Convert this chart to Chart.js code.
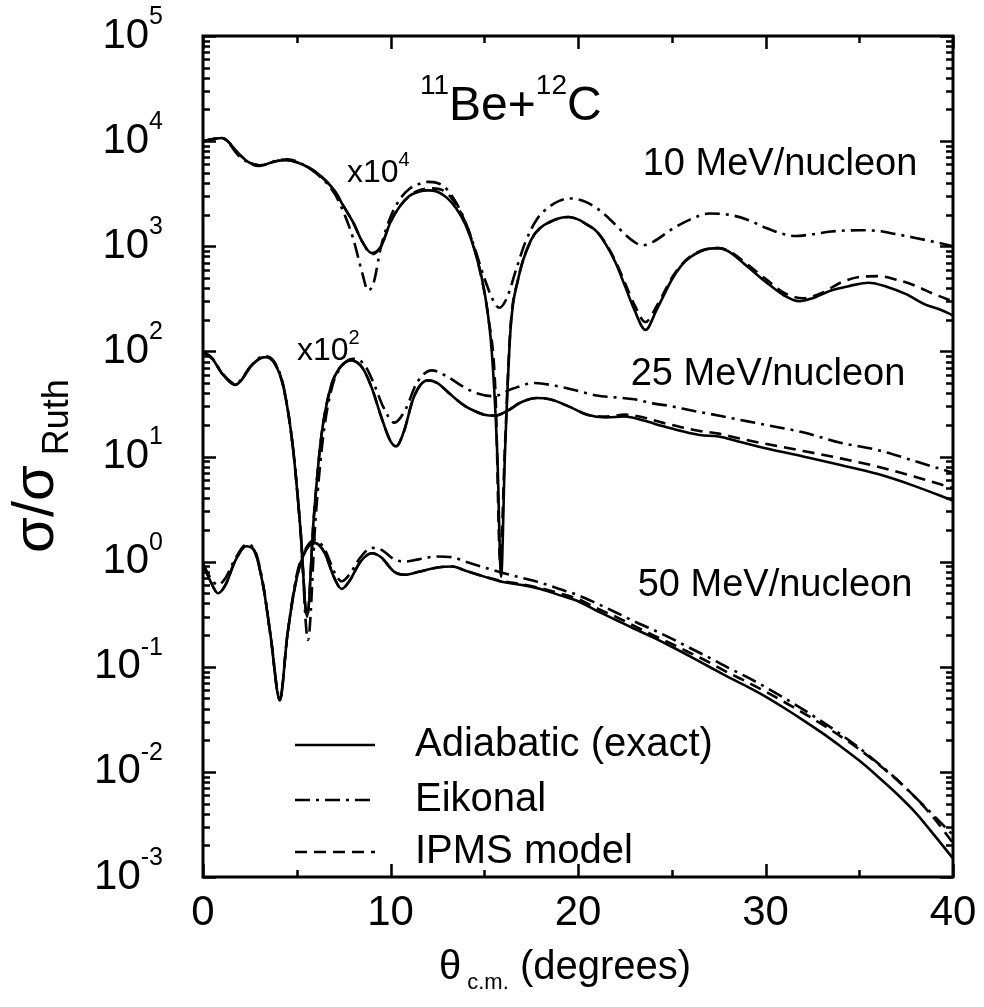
<!DOCTYPE html>
<html><head><meta charset="utf-8">
<script src="https://cdn.jsdelivr.net/npm/chart.js@4.4.1/dist/chart.umd.min.js"></script>
<style>html,body{margin:0;padding:0;background:#fff}#wrap{width:984px;height:1007px;position:relative}</style>
</head><body><div id="wrap"><canvas id="c" width="984" height="1007"></canvas></div>
<script>
// ---------- DATA ----------
// 10 MeV/nucleon (x10^4)
const thA10 = [0,1,2,2.5,3,4,4.5,5,6,7,7.5,8,8.5,9,9.5,10,10.5,11,11.5,12,12.5,13,13.5,14,14.5,15,15.4,15.7,15.9,16.1,16.4,16.8,17.5,18,18.5,19,19.5,20,20.5,21,21.5,22,22.5,23,23.6,24.2,25,25.5,26,27,27.5,28,29,30,31,31.8,32.5,33.5,34.5,35.5,36.5,37.5,38.5,39.3,40];
const adiab10 = [1.0e4,1.07e4,7.3e3,6.2e3,5.9e3,6.5e3,6.6e3,6.3e3,5.1e3,3.4e3,2.4e3,1.7e3,1.1e3,8.6e2,1.0e3,1.7e3,2.4e3,3.0e3,3.3e3,3.4e3,3.3e3,2.9e3,2.3e3,1.6e3,9e2,3.8e2,1.0e2,10,0.72,10,1.6e2,4.8e2,1.15e3,1.5e3,1.7e3,1.85e3,1.9e3,1.8e3,1.6e3,1.38e3,1.03e3,7e2,4.2e2,2.5e2,1.6e2,2.5e2,4.8e2,6.5e2,7.9e2,9.5e2,9.6e2,9e2,6.5e2,4.6e2,3.4e2,3.0e2,3.2e2,3.8e2,4.2e2,4.5e2,4.1e2,3.5e2,2.8e2,2.5e2,2.2e2];
const thE10 = [0,1,2,3,4,4.5,5,6,7,7.5,8,8.5,8.8,9.1,9.5,10,10.5,11,11.5,12,12.5,13,13.5,14,14.5,15,15.5,15.8,16.2,16.7,17.2,17.8,18.5,19,19.5,20,20.5,21,21.5,22,22.5,23,23.4,24,25,26,27,28,29,30,31,31.6,32.5,33.5,35,36,37,38,39,40];
const eik10 = [1.0e4,1.07e4,7.0e3,5.8e3,6.6e3,6.7e3,6.4e3,5.0e3,3.2e3,2.1e3,1.2e3,5.5e2,3.8e2,4.5e2,1.0e3,1.9e3,2.8e3,3.5e3,3.9e3,4.1e3,4.0e3,3.5e3,2.6e3,1.7e3,9.5e2,5e2,3e2,2.6e2,3.2e2,6e2,1.1e3,1.8e3,2.4e3,2.7e3,2.85e3,2.8e3,2.6e3,2.3e3,1.95e3,1.6e3,1.3e3,1.1e3,1.02e3,1.1e3,1.45e3,1.8e3,2.05e3,2.0e3,1.8e3,1.5e3,1.3e3,1.25e3,1.3e3,1.38e3,1.42e3,1.4e3,1.3e3,1.2e3,1.1e3,1.0e3];
const thI10 = [0,1,2,2.5,3,4,4.5,5,6,7,7.5,8,8.5,9,9.5,10,10.5,11,11.5,12.2,12.8,13.3,13.8,14.3,14.8,15.2,15.6,15.85,16.1,16.4,16.8,17.5,18,18.5,19,19.5,20,20.5,21,21.5,22,22.5,23,23.6,24.2,25,25.5,26,27,27.5,28,29,30,31,32,33,34,35,36,37,38,39,40];
const ipms10 = [1.0e4,1.07e4,7.3e3,6.2e3,5.9e3,6.5e3,6.6e3,6.3e3,5.1e3,3.4e3,2.4e3,1.7e3,1.1e3,8.4e2,1.0e3,1.7e3,2.4e3,3.0e3,3.4e3,3.55e3,3.4e3,2.8e3,2.0e3,1.2e3,5.5e2,2.2e2,40,1.0,12,1.7e2,4.8e2,1.15e3,1.5e3,1.7e3,1.85e3,1.9e3,1.8e3,1.6e3,1.38e3,1.05e3,7.2e2,4.5e2,2.8e2,1.9e2,2.7e2,5e2,6.6e2,8e2,9.5e2,9.6e2,9.1e2,6.8e2,4.9e2,3.6e2,3.2e2,3.6e2,4.5e2,5.1e2,5.2e2,4.8e2,4.2e2,3.5e2,3.0e2];

// 25 MeV/nucleon (x10^2)
const thA25 = [0,0.5,1,1.5,1.7,2,2.5,3,3.3,3.8,4.3,4.8,5.2,5.55,5.9,6.3,6.8,7.3,7.9,8.5,9,9.5,10,10.3,10.7,11.2,11.6,12,12.5,13,13.5,14,14.5,15,15.6,16.2,17,17.8,18.5,19.5,20.5,21.5,22.5,23.5,24.5,25.5,26.5,27.5,28.5,30,32,34,36,38,40];
const adiab25 = [98,85,62,50,48,52,70,85,88,78,45,12,2,0.3,2.5,15,45,70,82,70,45,24,14,12.5,17,35,48,53,50,42,35,30,27,25,24.5,27,33,36,35,30,25,23.5,24,22,19.5,17.5,16,15.5,14,12,10,8.3,6.8,5.2,3.8];
const thE25 = [0,0.5,1,1.5,1.7,2,2.5,3,3.3,3.8,4.3,4.8,5.2,5.6,6,6.4,6.9,7.4,8,8.6,9.1,9.6,10.2,10.8,11.4,12.2,13,13.8,14.6,15.5,16.5,17.7,18.8,20,21,22,23,24,25,26,27,28,30,32,34,36,38,40];
const eik25 = [100,86,63,51,49,53,71,87,90,80,46,12,2,0.18,2.5,15,47,72,85,75,50,30,21,28,50,66,58,47,40,37.5,44,50,47,42,38,36.5,35,32,30,27.5,25.5,23.5,20,17,13.5,11.5,9,7];
const thI25 = [0,0.5,1,1.5,1.7,2,2.5,3,3.3,3.8,4.3,4.8,5.2,5.55,5.9,6.3,6.8,7.3,7.9,8.5,9,9.5,10,10.3,10.7,11.2,11.6,12,12.5,13,13.5,14,14.5,15,15.6,16.2,17,17.8,18.5,19.5,20.5,21.5,22.5,23.5,24.5,25.5,26.5,27.5,28.5,30,32,34,36,38,40];
const ipms25 = [98,85,62,50,48,52,70,85,88,78,45,12,2,0.3,2.5,15,45,70,82,70,45,24,14,12.5,17,35,48,53,50,42,35,30,27,25,24.5,27,33,36,35,30,25,24,25,23.5,21,19,17.5,16.5,15,13.2,11.3,9.6,8,6.4,5];

// 50 MeV/nucleon (x1)
const thA50 = [0,0.4,0.8,1.2,1.7,2.3,2.7,3.2,3.6,4.1,4.5,5,5.5,6,6.5,7,7.4,7.8,8.4,9,9.5,10.2,10.8,11.5,12.5,13.3,14,15,16,17,18,19,20,21,22,23,24,25,26,27,28,29,30,31,32,33,34,35,36,37,38,39,40];
const adiab50 = [0.95,0.65,0.5,0.6,1.0,1.4,1.3,0.6,0.2,0.048,0.2,0.7,1.3,1.5,1.2,0.7,0.55,0.65,1.0,1.2,1.1,0.8,0.75,0.8,0.88,0.9,0.82,0.72,0.64,0.6,0.55,0.48,0.42,0.34,0.28,0.23,0.19,0.155,0.125,0.1,0.08,0.065,0.052,0.0405,0.0311,0.0236,0.0175,0.0128,0.009,0.0062,0.0041,0.0025,0.0015];
const thE50 = thA50;
const eik50 = [0.95,0.7,0.6,0.7,1.05,1.45,1.35,0.62,0.2,0.05,0.2,0.75,1.35,1.6,1.3,0.8,0.65,0.75,1.1,1.35,1.3,1.05,1.0,1.05,1.12,1.1,1.0,0.88,0.78,0.7,0.63,0.55,0.48,0.4,0.33,0.27,0.225,0.185,0.15,0.122,0.098,0.08,0.064,0.0504,0.0393,0.0302,0.0228,0.0169,0.0121,0.0085,0.0057,0.0038,0.0025];
const thI50 = thA50;
const ipms50 = [0.95,0.65,0.5,0.6,1.0,1.4,1.3,0.6,0.2,0.048,0.2,0.7,1.3,1.5,1.2,0.7,0.55,0.65,1.0,1.2,1.1,0.8,0.75,0.8,0.88,0.9,0.82,0.72,0.65,0.61,0.56,0.5,0.44,0.36,0.3,0.245,0.2,0.165,0.135,0.11,0.088,0.072,0.058,0.0462,0.0365,0.0284,0.0218,0.0164,0.0119,0.0084,0.0057,0.0036,0.0021];

const xTicks = [0,10,20,30,40];
const yExponents = [-3,-2,-1,0,1,2,3,4,5];
const legendLabels = ['Adiabatic (exact)','Eikonal','IPMS model'];

// ---------- STYLE ----------
const FONT = '"Liberation Sans", Arial, Helvetica, sans-serif';
const LW = 2.6;
const DASH = { solid: [], eik: [15,6,3,6], ipms: [12,7] };
const pts = (xs, ys) => xs.map((x, i) => ({x, y: ys[i]}));
const ds = (xs, ys, kind) => ({
  data: pts(xs, ys), borderColor: '#000', borderWidth: LW, borderDash: DASH[kind],
  pointRadius: 0, fill: false, cubicInterpolationMode: 'monotone', kind
});

const datasets = [
  ds(thA10, adiab10, 'solid'), ds(thE10, eik10, 'eik'), ds(thI10, ipms10, 'ipms'),
  ds(thA25, adiab25, 'solid'), ds(thE25, eik25, 'eik'), ds(thI25, ipms25, 'ipms'),
  ds(thA50, adiab50, 'solid'), ds(thE50, eik50, 'eik'), ds(thI50, ipms50, 'ipms')
];

function supText(ctx, parts, x, y, align) {
  let w = 0;
  parts.forEach(p => { ctx.font = p.size + 'px ' + FONT; p.w = ctx.measureText(p.t).width; w += p.w; });
  let cx = align === 'right' ? x - w : align === 'center' ? x - w / 2 : x;
  ctx.textAlign = 'left';
  parts.forEach(p => { ctx.font = p.size + 'px ' + FONT; ctx.fillText(p.t, cx, y + (p.dy || 0)); cx += p.w; });
}

const decor = {
  id: 'decor',
  afterDraw(chart) {
    const ctx = chart.ctx, a = chart.chartArea, xs = chart.scales.x, ys = chart.scales.y;
    ctx.save();
    ctx.strokeStyle = '#000'; ctx.fillStyle = '#000'; ctx.lineCap = 'butt';
    // ticks (inward, on all four sides)
    ctx.lineWidth = 2.5;
    ctx.beginPath();
    for (let v = 0; v <= 40; v += 5) {
      const px = Math.round(xs.getPixelForValue(v)) + 0.5;
      const L = v % 10 === 0 ? 13 : 7;
      ctx.moveTo(px, a.bottom); ctx.lineTo(px, a.bottom - L);
      ctx.moveTo(px, a.top); ctx.lineTo(px, a.top + L);
    }
    for (let e = -3; e <= 5; e++) {
      for (let m = 1; m <= 9; m++) {
        const v = m * Math.pow(10, e);
        if (e === 5 && m > 1) break;
        const py = Math.round(ys.getPixelForValue(v)) + 0.5;
        const L = m === 1 ? 13 : 7;
        ctx.moveTo(a.left, py); ctx.lineTo(a.left + L, py);
        ctx.moveTo(a.right, py); ctx.lineTo(a.right - L, py);
      }
    }
    ctx.stroke();
    ctx.lineWidth = 3;
    ctx.strokeRect(a.left, a.top, a.right - a.left, a.bottom - a.top);

    // tick labels
    ctx.textBaseline = 'middle';
    xTicks.forEach(v => {
      ctx.font = '42px ' + FONT; ctx.textAlign = 'center';
      ctx.fillText(String(v), xs.getPixelForValue(v), 913);
    });
    yExponents.forEach(e => {
      const py = ys.getPixelForValue(Math.pow(10, e));
      supText(ctx, [{t: '10', size: 42, dy: 0}, {t: String(e), size: 25, dy: -19}], 163, py, 'right');
    });

    // axis titles
    ctx.textBaseline = 'alphabetic';
    supText(ctx, [{t: 'θ', size: 40}, {t: ' c.m.', size: 22, dy: 10}, {t: ' (degrees)', size: 40}], 565, 979, 'center');
    ctx.save();
    ctx.translate(53, 466); ctx.rotate(-Math.PI / 2);
    supText(ctx, [{t: 'σ/σ', size: 58}, {t: ' Ruth', size: 36, dy: 15}], 0, 0, 'center');
    ctx.restore();

    // annotations
    supText(ctx, [{t: '11', size: 28, dy: -26}, {t: 'Be+', size: 48}, {t: '12', size: 28, dy: -26}, {t: 'C', size: 48}], 420, 120, 'left');
    supText(ctx, [{t: 'x10', size: 32}, {t: '4', size: 20, dy: -16}], 347, 182, 'left');
    supText(ctx, [{t: 'x10', size: 32}, {t: '2', size: 20, dy: -16}], 297, 360, 'left');
    ctx.font = '38px ' + FONT; ctx.textAlign = 'center';
    ctx.fillText('10 MeV/nucleon', 780, 175);
    ctx.fillText('25 MeV/nucleon', 768, 385);
    ctx.fillText('50 MeV/nucleon', 775, 596);

    // legend
    const rows = [745, 800, 852];
    const kinds = ['solid', 'eik', 'ipms'];
    rows.forEach((ry, i) => {
      ctx.lineWidth = LW; ctx.setLineDash(DASH[kinds[i]]);
      ctx.beginPath(); ctx.moveTo(295, ry); ctx.lineTo(375, ry); ctx.stroke();
      ctx.setLineDash([]);
      ctx.font = '40px ' + FONT; ctx.textAlign = 'left'; ctx.textBaseline = 'middle';
      ctx.fillText(legendLabels[i], 415, ry);
    });
    ctx.restore();
  }
};

new Chart(document.getElementById('c'), {
  type: 'line',
  data: { datasets },
  options: {
    responsive: false, animation: false, devicePixelRatio: 1,
    layout: { padding: { left: 203, right: 31, top: 36, bottom: 130 } },
    plugins: { legend: { display: false }, tooltip: { enabled: false } },
    scales: {
      x: { type: 'linear', min: 0, max: 40, display: false },
      y: { type: 'logarithmic', min: 1e-3, max: 1e5, display: false }
    }
  },
  plugins: [decor]
});
</script></body></html>
